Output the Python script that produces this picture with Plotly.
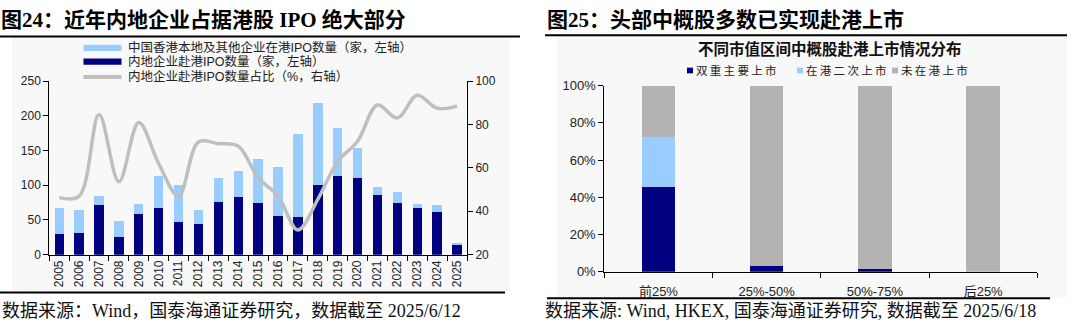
import plotly.graph_objects as go

W, H = 1080, 334

# ---------------- data ----------------
years = [str(y) for y in range(2005, 2026)]
mainland_ipo = [30, 31, 71, 25, 58, 67, 47, 44, 76, 83, 74, 56, 54, 100, 113, 111, 86, 74, 67, 61, 14]
other_ipo = [37, 33, 14, 24, 15, 46, 54, 20, 34, 38, 64, 70, 120, 118, 70, 43, 12, 16, 6, 10, 3]
mainland_share = [46.3, 47, 84.7, 53.6, 81, 62, 47, 72, 71.2, 70, 55.5, 47, 31.4, 45.5, 63, 72.3, 89, 83, 93.5, 87.5, 88.5]

cap_groups = ["前25%", "25%-50%", "50%-75%", "后25%"]
dual_primary = [45.5, 3, 1.5, 0]
secondary_listing = [27, 0, 0, 0]
not_listed_hk = [27.5, 97, 98.5, 100]

left_yticks = [0, 50, 100, 150, 200, 250]
right_yticks = [20, 40, 60, 80, 100]
pct_ticks = [0, 20, 40, 60, 80, 100]
pct_labels = ["0%", "20%", "40%", "60%", "80%", "100%"]

NAVY = "#000080"
LIGHT = "#99ccff"
GRAY_LINE = "#bfbfbf"
GRAY_BAR = "#b3b3b3"

SANS = "Liberation Sans, Arial, Noto Sans CJK SC"
SERIF = "Liberation Serif, Noto Sans CJK SC"
CJK = "Liberation Sans, Noto Sans CJK SC"


def px(x):
    return x / W


def py(y):
    return 1 - y / H


fig = go.Figure()

# left chart
fig.add_trace(go.Bar(x=years, y=mainland_ipo, marker=dict(color=NAVY, line=dict(width=0)),
                     xaxis="x", yaxis="y", showlegend=False))
fig.add_trace(go.Bar(x=years, y=other_ipo, marker=dict(color=LIGHT, line=dict(width=0)),
                     xaxis="x", yaxis="y", showlegend=False))
fig.add_trace(go.Scatter(x=years, y=mainland_share, mode="lines",
                         line=dict(color=GRAY_LINE, width=3.5, shape="spline", smoothing=1.0),
                         xaxis="x", yaxis="y2", showlegend=False))

# right chart
fig.add_trace(go.Bar(x=cap_groups, y=dual_primary, marker=dict(color=NAVY, line=dict(width=0)),
                     xaxis="x2", yaxis="y3", showlegend=False, width=0.31))
fig.add_trace(go.Bar(x=cap_groups, y=secondary_listing, marker=dict(color=LIGHT, line=dict(width=0)),
                     xaxis="x2", yaxis="y3", showlegend=False, width=0.31))
fig.add_trace(go.Bar(x=cap_groups, y=not_listed_hk, marker=dict(color=GRAY_BAR, line=dict(width=0)),
                     xaxis="x2", yaxis="y3", showlegend=False, width=0.31))

axis_common = dict(showgrid=False, zeroline=False, showline=True, linecolor="#000000", linewidth=1,
                   ticks="outside", ticklen=5, tickcolor="#000000", tickwidth=1)

fig.update_layout(
    width=W, height=H,
    margin=dict(l=0, r=0, t=0, b=0),
    paper_bgcolor="#ffffff",
    plot_bgcolor="rgba(0,0,0,0)",
    barmode="stack",
    bargap=0.53,
    xaxis=dict(domain=[px(49.3), px(467)], anchor="y", type="category", tickson="boundaries",
               tickangle=-90, tickfont=dict(family=SANS, size=12, color="#222222"), **axis_common),
    yaxis=dict(domain=[py(259.3), py(77.7)], anchor="x", range=[0, 250], tickvals=left_yticks,
               tickfont=dict(family=SANS, size=12, color="#222222"), **axis_common),
    yaxis2=dict(domain=[py(259.3), py(77.7)], anchor="x", overlaying="y", side="right", range=[20, 100],
                tickvals=right_yticks, tickfont=dict(family=SANS, size=12, color="#222222"), **axis_common),
    xaxis2=dict(domain=[px(604.3), px(1037.3)], anchor="y3", type="category", tickson="boundaries",
                ticklabelstandoff=8,
                tickfont=dict(family=CJK, size=13, color="#222222"), **axis_common),
    yaxis3=dict(domain=[py(277.3), py(82.3)], anchor="x2", range=[0, 100], tickvals=pct_ticks,
                ticktext=pct_labels, tickfont=dict(family=SANS, size=13, color="#222222"), **axis_common),
)

shapes = []
# panel backgrounds
shapes.append(dict(type="rect", xref="paper", yref="paper", x0=px(12), x1=px(510), y0=py(298), y1=py(32),
                   fillcolor="#f8f8f8", line=dict(width=0), layer="below"))
shapes.append(dict(type="rect", xref="paper", yref="paper", x0=px(557), x1=px(1067), y0=py(304), y1=py(30),
                   fillcolor="#f8f8f8", line=dict(width=0), layer="below"))
# rules
for x0, x1, y in [(0, 520, 31), (545, 1067, 29.5), (0, 505, 299), (547, 1050, 305)]:
    shapes.append(dict(type="line", xref="paper", yref="paper", x0=px(x0), x1=px(x1), y0=py(y), y1=py(y),
                       line=dict(color="#000000", width=2)))
# left legend symbols
shapes.append(dict(type="rect", xref="paper", yref="paper", x0=px(83.5), x1=px(121.5), y0=py(46), y1=py(39.5),
                   fillcolor=LIGHT, line=dict(width=0)))
shapes.append(dict(type="rect", xref="paper", yref="paper", x0=px(83.5), x1=px(121.5), y0=py(60.5), y1=py(54),
                   fillcolor=NAVY, line=dict(width=0)))
shapes.append(dict(type="line", xref="paper", yref="paper", x0=px(83.5), x1=px(121.5), y0=py(73.3), y1=py(73.3),
                   line=dict(color=GRAY_LINE, width=4)))
# right legend squares
for xs, col in [(687, NAVY), (797, LIGHT), (892, GRAY_BAR)]:
    shapes.append(dict(type="rect", xref="paper", yref="paper", x0=px(xs), x1=px(xs + 6), y0=py(69.5), y1=py(63.5),
                       fillcolor=col, line=dict(width=0)))

annotations = []


def ann(x, y, text, size, family, bold=False, color="#000000", xanchor="left"):
    if bold:
        text = "<b>" + text + "</b>"
    annotations.append(dict(x=px(x), y=py(y), xref="paper", yref="paper", text=text, showarrow=False,
                            xanchor=xanchor, yanchor="middle", align="left",
                            font=dict(size=size, family=family, color=color)))


ann(-1, 14, "图24：近年内地企业占据港股 IPO 绝大部分", 21, SERIF, bold=True)
ann(545, 14, "图25：头部中概股多数已实现赴港上市", 21, SERIF, bold=True)
ann(0, 318, "数据来源：Wind，国泰海通证券研究，数据截至 2025/6/12", 18, SERIF, color="#111111")
ann(543, 318, "数据来源: Wind, HKEX, 国泰海通证券研究, 数据截至 2025/6/18", 18, SERIF, color="#111111")

ann(126, 42.7, "中国香港本地及其他企业在港IPO数量（家，左轴）", 12.5, CJK, color="#222222")
ann(126, 57, "内地企业赴港IPO数量（家，左轴）", 12.5, CJK, color="#222222")
ann(126, 73, "内地企业赴港IPO数量占比（%，右轴）", 12.5, CJK, color="#222222")

ann(830, 43.5, "不同市值区间中概股赴港上市情况分布", 15.5, CJK, bold=True, color="#111111", xanchor="center")
TS = "\u2009"
ann(694, 66.5, TS.join("双重主要上市"), 11.5, CJK, color="#222222")
ann(804, 66.5, TS.join("在港二次上市"), 11.5, CJK, color="#222222")
ann(899, 66.5, TS.join("未在港上市"), 11.5, CJK, color="#222222")

fig.update_layout(shapes=shapes, annotations=annotations)

fig.write_html("out.html")
